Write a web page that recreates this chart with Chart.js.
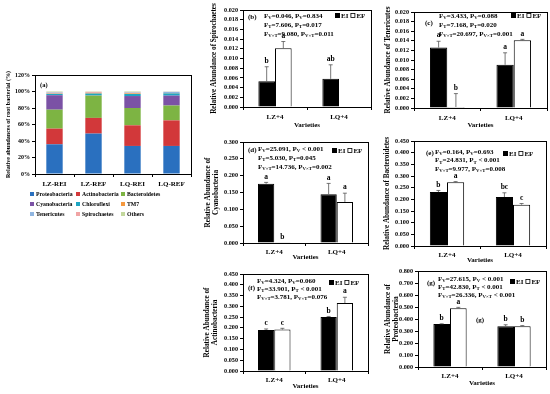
<!DOCTYPE html>
<html>
<head>
<meta charset="utf-8">
<script src="https://cdn.jsdelivr.net/npm/chart.js@4.4.0/dist/chart.umd.min.js"></script>
<style>
  html, body { margin: 0; padding: 0; background: #fff; }
  #fig { position: relative; width: 550px; height: 394px; overflow: hidden; }
  #fig canvas { position: absolute; }
</style>
</head>
<body>
<div id="fig"></div>
<script>
// ---- (a) relative abundance of root bacterial phyla (%) ----
const samples = ['LZ-REI', 'LZ-REF', 'LQ-REI', 'LQ-REF'];
const phyla = ['Proteobacteria', 'Actinobacteria', 'Bacteroidetes', 'Cyanobacteria', 'Chloroflexi', 'TM7', 'Tenericutes', 'Spirochaetes', 'Others'];
const phylaColors = ['#2a70bf', '#d2383a', '#7db443', '#7b52a5', '#1ea5c2', '#f5993f', '#8fb5e0', '#f0a4a4', '#c2d79c'];
const proteobacteria = [36, 49, 34, 34];
const actinobacteria = [19, 19, 25, 31];
const bacteroidetes = [23, 27, 21, 18];
const cyanobacteria = [17.5, 0.2, 14.5, 12];
const chloroflexi = [1.5, 2.3, 2.5, 2.7];
const tm7 = [0.5, 0.8, 0.8, 0.5];
const tenericutes = [1.2, 0.1, 0.9, 1.4];
const spirochaetes = [0.5, 1.2, 0.6, 0.1];
const others = [0.8, 0.4, 0.7, 0.3];
const pctTicks = [0, 20, 40, 60, 80, 100, 120];

// ---- (b)-(g) two varieties, EI vs EF ----
const varieties = ['LZ+4', 'LQ+4'];

const spiroEI = [0.0053, 0.0058], spiroEF = [0.0121, 0];
const spiroEIsd = [0.0030, 0.0029], spiroEFsd = [0.0014, 0];
const spiroEIsig = ['b', 'ab'], spiroEFsig = ['a', ''];
const spiroStats = [['V', '0.046', '=0.834'], ['T', '7.606', '=0.017'], ['V×T', '9.080', '=0.011']];

const teneEI = [0.0126, 0.0090], teneEF = [0.0002, 0.0141];
const teneEIsd = [0.0013, 0.0025], teneEFsd = [0.0028, 0.0002];
const teneEIsig = ['a', 'a'], teneEFsig = ['b', 'a'];
const teneStats = [['V', '3.433', '=0.088'], ['T', '7.168', '=0.020'], ['V×T', '20.697', '=0.001']];

const cyanoEI = [0.176, 0.145], cyanoEF = [0.002, 0.122];
const cyanoEIsd = [0.004, 0.032], cyanoEFsd = [0, 0.026];
const cyanoEIsig = ['a', 'a'], cyanoEFsig = ['b', 'a'];
const cyanoStats = [['V', '25.091', ' < 0.001'], ['T', '5.030', '=0.045'], ['V×T', '14.736', '=0.002']];

const bactEI = [0.231, 0.210], bactEF = [0.273, 0.177];
const bactEIsd = [0.007, 0.018], bactEFsd = [0.003, 0.005];
const bactEIsig = ['b', 'bc'], bactEFsig = ['a', 'c'];
const bactStats = [['V', '0.164', '=0.693'], ['T', '24.831', ' < 0.001'], ['V×T', '9.977', '=0.008']];

const actiEI = [0.190, 0.251], actiEF = [0.192, 0.315];
const actiEIsd = [0.005, 0.002], actiEFsd = [0.006, 0.027];
const actiEIsig = ['c', 'b'], actiEFsig = ['c', 'a'];
const actiStats = [['V', '4.324', '=0.060'], ['T', '33.901', ' < 0.001'], ['V×T', '3.781', '=0.076']];

const protEI = [0.358, 0.340], protEF = [0.490, 0.340];
const protEIsd = [0.002, 0.012], protEFsd = [0.007, 0.005];
const protEIsig = ['b', 'b'], protEFsig = ['a', 'b'];
const protStats = [['V', '27.615', ' < 0.001'], ['T', '42.830', ' < 0.001'], ['V×T', '26.336', ' < 0.001']];

const SERIF = '"Liberation Serif", "Times New Roman", serif';
const fig = document.getElementById('fig');
Chart.defaults.color = '#000';

function makeCanvas(x, y, w, h) {
  const c = document.createElement('canvas');
  c.width = w; c.height = h;
  c.style.left = x + 'px'; c.style.top = y + 'px';
  c.style.width = w + 'px'; c.style.height = h + 'px';
  fig.appendChild(c);
  return c;
}

function boxPlugin(id) {
  return {
    id,
    afterDraw(chart) {
      const a = chart.chartArea, ctx = chart.ctx;
      ctx.save();
      ctx.strokeStyle = '#000';
      ctx.lineWidth = 1;
      ctx.strokeRect(Math.round(a.left) + 0.5, Math.round(a.top) + 0.5, Math.round(a.right - a.left), Math.round(a.bottom - a.top));
      ctx.restore();
    }
  };
}

// F / P line with subscripts
function statLine(ctx, x, y, st, size) {
  const parts = [['F', 0], [st[0], 1], ['=' + st[1] + ', P', 0], [st[0], 1], [st[2], 0]];
  let cx = x;
  ctx.textBaseline = 'middle';
  ctx.textAlign = 'left';
  parts.forEach(([t, s]) => {
    ctx.font = 'bold ' + (s ? size * 0.68 : size) + 'px ' + SERIF;
    ctx.fillText(t, cx, s ? y + 2 : y);
    cx += ctx.measureText(t).width;
  });
}

// ---- panel (a) ----
(function () {
  const X = 0, Y = 60, W = 195, H = 165;
  const plot = { l: 35, r: 191, t: 75, b: 174 };
  const canvas = makeCanvas(X, Y, W, H);
  const series = [proteobacteria, actinobacteria, bacteroidetes, cyanobacteria, chloroflexi, tm7, tenericutes, spirochaetes, others];
  const legendPlugin = {
    id: 'legendA',
    afterDraw(chart) {
      const ctx = chart.ctx;
      const cols = [32 - X, 78 - X, 123 - X];
      const rows = [194 - Y, 204 - Y, 214 - Y];
      ctx.save();
      ctx.font = 'bold 5.8px ' + SERIF;
      ctx.textBaseline = 'middle';
      phyla.forEach((p, i) => {
        const cx = cols[i % 3], cy = rows[Math.floor(i / 3)];
        ctx.fillStyle = phylaColors[i];
        ctx.fillRect(cx - 2, cy - 2, 4, 4);
        ctx.fillStyle = '#000';
        ctx.fillText(p, cx + 4, cy + 0.5);
      });
      ctx.font = 'bold 6.5px ' + SERIF;
      ctx.fillText('(a)', 40 - X, 85 - Y);
      ctx.restore();
    }
  };
  new Chart(canvas, {
    type: 'bar',
    data: {
      labels: samples,
      datasets: series.map((d, i) => ({
        label: phyla[i], data: d, backgroundColor: phylaColors[i], borderWidth: 0,
        barPercentage: 0.42, categoryPercentage: 1
      }))
    },
    options: {
      responsive: false, animation: false, devicePixelRatio: 1,
      layout: { padding: { top: plot.t - Y, right: X + W - plot.r, left: 0, bottom: 37 } },
      plugins: { legend: { display: false }, tooltip: { enabled: false } },
      scales: {
        x: {
          stacked: true,
          grid: { display: true, drawOnChartArea: false, tickLength: 3, color: '#000', offset: true },
          border: { color: '#000' },
          ticks: { font: { family: SERIF, size: 7, weight: 'bold' }, padding: 3 },
          afterFit: s => { s.height = 14; }
        },
        y: {
          stacked: true, min: 0, max: 120,
          afterBuildTicks: s => { s.ticks = pctTicks.map(v => ({ value: v })); },
          ticks: { callback: v => v + '%', font: { family: SERIF, size: 6, weight: 'bold' }, padding: 2, autoSkip: false },
          grid: { drawOnChartArea: false, tickLength: 3, color: '#000' },
          border: { color: '#000' },
          title: { display: true, text: 'Relative abundances of root bacterial (%)', font: { family: SERIF, size: 6, weight: 'bold' }, padding: { top: 5, bottom: 0 } },
          afterFit: s => { s.width = plot.l - X; }
        }
      }
    },
    plugins: [boxPlugin('boxA'), legendPlugin]
  });
})();

// ---- panels (b)-(g) ----
function panel(cfg) {
  const { x: X, y: Y, w: W, h: H, plot } = cfg;
  const canvas = makeCanvas(X, Y, W, H);
  const tSize = 7.2, lh = tSize * 1.2;
  const decor = {
    id: 'decor',
    afterDatasetsDraw(chart) {
      const ctx = chart.ctx, ys = chart.scales.y;
      ctx.save();
      chart.data.datasets.forEach((ds, di) => {
        const meta = chart.getDatasetMeta(di);
        meta.data.forEach((bar, i) => {
          const v = ds.data[i], sd = ds.sd[i];
          let top = ys.getPixelForValue(v);
          if (sd > 0) {
            const e = ys.getPixelForValue(v + sd);
            ctx.strokeStyle = '#555';
            ctx.lineWidth = 0.8;
            ctx.beginPath();
            ctx.moveTo(bar.x, top); ctx.lineTo(bar.x, e);
            ctx.moveTo(bar.x - 2, e); ctx.lineTo(bar.x + 2, e);
            ctx.stroke();
            top = e;
          }
          if (ds.sig[i]) {
            ctx.fillStyle = '#000';
            ctx.font = 'bold 7.5px ' + SERIF;
            ctx.textAlign = 'center';
            ctx.textBaseline = 'bottom';
            ctx.fillText(ds.sig[i], bar.x, top - 2);
          }
        });
      });
      ctx.restore();
    },
    afterDraw(chart) {
      const ctx = chart.ctx;
      ctx.save();
      ctx.fillStyle = '#000';
      ctx.font = 'bold 7px ' + SERIF;
      ctx.textBaseline = 'middle';
      ctx.textAlign = 'left';
      cfg.tags.forEach(t => ctx.fillText(cfg.tag, t[0] - X, t[1] - Y));
      cfg.stats.forEach((st, i) => statLine(ctx, cfg.statX - X, cfg.statY[i] - Y, st, 7));
      // EI / EF key
      let lx = cfg.key[0] - X;
      const ly = cfg.key[1] - Y;
      ctx.fillRect(lx, ly - 3, 5, 5);
      ctx.font = 'bold 7px ' + SERIF;
      ctx.fillText('EI', lx + 6, ly);
      lx += 6 + ctx.measureText('EI').width + 2;
      ctx.strokeStyle = '#000';
      ctx.lineWidth = 0.8;
      ctx.strokeRect(lx + 0.5, ly - 2.5, 4, 4);
      ctx.fillText('EF', lx + 6, ly);
      ctx.restore();
    }
  };
  new Chart(canvas, {
    type: 'bar',
    data: {
      labels: varieties,
      datasets: [
        { label: 'EI', data: cfg.ei, sd: cfg.eiSd, sig: cfg.eiSig, backgroundColor: '#000', borderColor: '#000', borderWidth: 1 },
        { label: 'EF', data: cfg.ef, sd: cfg.efSd, sig: cfg.efSig, backgroundColor: '#fff', borderColor: '#000', borderWidth: 1 }
      ]
    },
    options: {
      responsive: false, animation: false, devicePixelRatio: 1,
      layout: { padding: { top: plot.t - Y, right: X + W - plot.r, left: 0, bottom: 0 } },
      plugins: { legend: { display: false }, tooltip: { enabled: false } },
      datasets: { bar: { categoryPercentage: 0.52, barPercentage: 1 } },
      scales: {
        x: {
          grid: { display: true, drawOnChartArea: false, tickLength: 3, color: '#000', offset: true },
          border: { color: '#000' },
          ticks: { font: { family: SERIF, size: 7, weight: 'bold' }, padding: cfg.xPad },
          title: { display: true, text: 'Varieties', font: { family: SERIF, size: 7, weight: 'bold' }, padding: { top: 0, bottom: (Y + H) - cfg.xTitleY - 4.2 } },
          afterFit: s => { s.height = (Y + H) - plot.b; }
        },
        y: {
          min: 0, max: cfg.yMax,
          ticks: { stepSize: cfg.yStep, callback: v => v.toFixed(3), font: { family: SERIF, size: 6.2, weight: 'bold' }, padding: 2, autoSkip: false },
          grid: { drawOnChartArea: false, tickLength: 3, color: '#000' },
          border: { color: '#000' },
          title: { display: true, text: cfg.yTitle, font: { family: SERIF, size: tSize, weight: 'bold' }, padding: { top: (cfg.yTitleX - X) - lh / 2, bottom: 0 } },
          afterFit: s => { s.width = plot.l - X; }
        }
      }
    },
    plugins: [boxPlugin('box'), decor]
  });
}

panel({
  x: 190, y: 0, w: 185, h: 130, plot: { l: 243, r: 371, t: 10, b: 107 },
  yMax: 0.02, yStep: 0.002, yTitle: 'Relative Abundance of Spirochaetes', yTitleX: 214, xTitleY: 125, xPad: 3,
  ei: spiroEI, ef: spiroEF, eiSd: spiroEIsd, efSd: spiroEFsd, eiSig: spiroEIsig, efSig: spiroEFsig,
  tag: '(b)', tags: [[248, 17]], stats: spiroStats, statX: 264, statY: [16, 25, 34], key: [335, 16]
});
panel({
  x: 375, y: 0, w: 175, h: 130, plot: { l: 414, r: 547, t: 12, b: 108 },
  yMax: 0.02, yStep: 0.002, yTitle: 'Relative Abundance of Tenericutes', yTitleX: 388, xTitleY: 125, xPad: 3,
  ei: teneEI, ef: teneEF, eiSd: teneEIsd, efSd: teneEFsd, eiSig: teneEIsig, efSig: teneEFsig,
  tag: '(c)', tags: [[425, 23]], stats: teneStats, statX: 439, statY: [16, 25, 34], key: [511, 16]
});
panel({
  x: 190, y: 128, w: 185, h: 134, plot: { l: 243, r: 368, t: 142, b: 243 },
  yMax: 0.3, yStep: 0.05, yTitle: ['Relative Abundance of', 'Cyanobacteria'], yTitleX: 208, xTitleY: 257, xPad: 2,
  ei: cyanoEI, ef: cyanoEF, eiSd: cyanoEIsd, efSd: cyanoEFsd, eiSig: cyanoEIsig, efSig: cyanoEFsig,
  tag: '(d)', tags: [[248, 150]], stats: cyanoStats, statX: 258, statY: [149, 158, 167], key: [332, 151]
});
panel({
  x: 375, y: 128, w: 175, h: 136, plot: { l: 414, r: 546, t: 141, b: 246 },
  yMax: 0.45, yStep: 0.05, yTitle: 'Relative Abundance of Bacteroidetes', yTitleX: 387, xTitleY: 260, xPad: 2,
  ei: bactEI, ef: bactEF, eiSd: bactEIsd, efSd: bactEFsd, eiSig: bactEIsig, efSig: bactEFsig,
  tag: '(e)', tags: [[426, 153]], stats: bactStats, statX: 435, statY: [152, 160.5, 169], key: [503, 154]
});
panel({
  x: 190, y: 258, w: 185, h: 136, plot: { l: 243, r: 368, t: 274, b: 371 },
  yMax: 0.45, yStep: 0.05, yTitle: ['Relative Abundance of', 'Actinobacteria'], yTitleX: 207, xTitleY: 386, xPad: 2,
  ei: actiEI, ef: actiEF, eiSd: actiEIsd, efSd: actiEFsd, eiSig: actiEIsig, efSig: actiEFsig,
  tag: '(f)', tags: [[248, 288]], stats: actiStats, statX: 257, statY: [281, 289, 297], key: [329, 283]
});
panel({
  x: 375, y: 258, w: 175, h: 136, plot: { l: 418, r: 546, t: 271, b: 367 },
  yMax: 0.8, yStep: 0.1, yTitle: ['Relative Abundance of', 'Proteobacteria'], yTitleX: 388, xTitleY: 383, xPad: 2,
  ei: protEI, ef: protEF, eiSd: protEIsd, efSd: protEFsd, eiSig: protEIsig, efSig: protEFsig,
  tag: '(g)', tags: [[427, 283], [476, 320]], stats: protStats, statX: 438, statY: [279, 287, 295], key: [510, 282]
});
</script>
</body>
</html>
